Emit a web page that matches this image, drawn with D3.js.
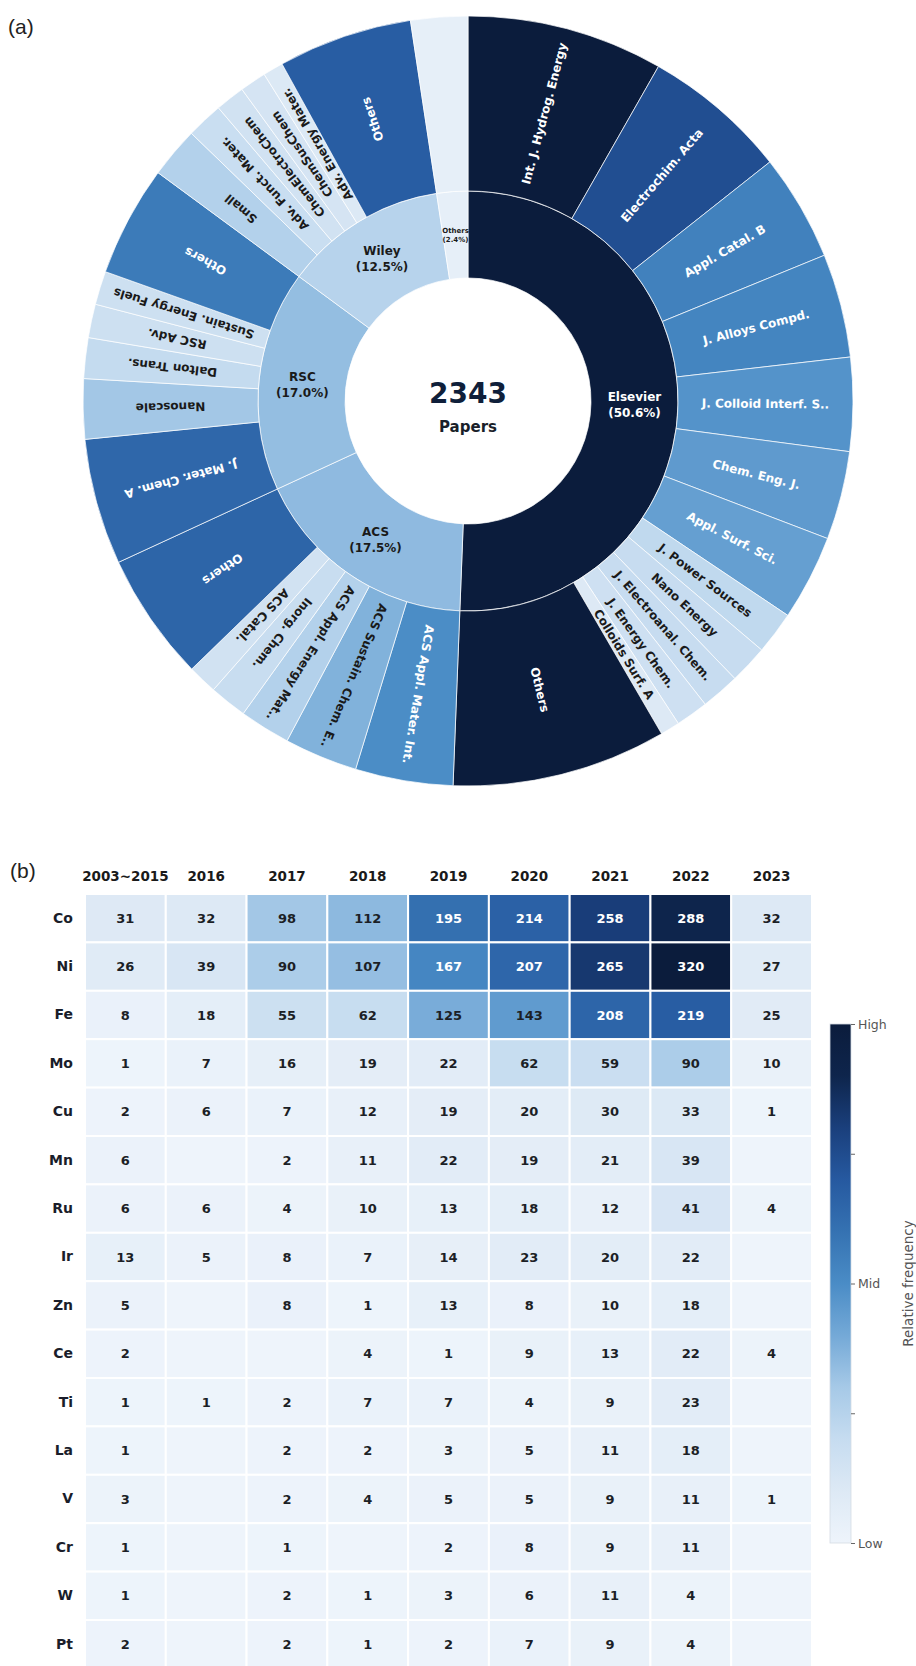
<!DOCTYPE html>
<html>
<head>
<meta charset="utf-8">
<script src="https://cdn.jsdelivr.net/npm/d3@7"></script>
<style>
  body { margin: 0; background: #fff; }
  svg { display: block; font-family: "DejaVu Sans", sans-serif; }
</style>
</head>
<body>
<div id="chart"></div>
<script>
// ---- panel (a): publishers and journals ----
const publishers = ["Elsevier", "ACS", "RSC", "Wiley", "Others"];

const elsevierJournals = ["Int. J. Hydrog. Energy", "Electrochim. Acta", "Appl. Catal. B", "J. Alloys Compd.",
  "J. Colloid Interf. S..", "Chem. Eng. J.", "Appl. Surf. Sci.", "J. Power Sources", "Nano Energy",
  "J. Electroanal. Chem.", "J. Energy Chem.", "Colloids Surf. A", "Others"];
const elsevierCounts = [193, 143, 105, 102, 92, 87, 84, 42, 38, 38, 32, 19, 211];

const acsJournals = ["ACS Appl. Mater. Int.", "ACS Sustain. Chem. E..", "ACS Appl. Energy Mat..",
  "Inorg. Chem.", "ACS Catal.", "Others"];
const acsCounts = [96, 72, 50, 37, 29, 126];

const rscJournals = ["J. Mater. Chem. A", "Nanoscale", "Dalton Trans.", "RSC Adv.", "Sustain. Energy Fuels", "Others"];
const rscCounts = [124, 59, 40, 33, 33, 109];

const wileyJournals = ["Small", "Adv. Funct. Mater.", "ChemElectroChem", "ChemSusChem", "Adv. Energy Mater.", "Others"];
const wileyCounts = [50, 36, 29, 26, 20, 132];

const otherJournals = [""];   // the small "Others" publisher has no journal split
const otherCounts = [56];

// ---- panel (b): metals per year ----
const metals = ["Co", "Ni", "Fe", "Mo", "Cu", "Mn", "Ru", "Ir", "Zn", "Ce", "Ti", "La", "V", "Cr", "W", "Pt"];
const years = ["2003~2015", "2016", "2017", "2018", "2019", "2020", "2021", "2022", "2023"];
const heatCounts = [
  [31, 32, 98, 112, 195, 214, 258, 288, 32],
  [26, 39, 90, 107, 167, 207, 265, 320, 27],
  [8, 18, 55, 62, 125, 143, 208, 219, 25],
  [1, 7, 16, 19, 22, 62, 59, 90, 10],
  [2, 6, 7, 12, 19, 20, 30, 33, 1],
  [6, null, 2, 11, 22, 19, 21, 39, null],
  [6, 6, 4, 10, 13, 18, 12, 41, 4],
  [13, 5, 8, 7, 14, 23, 20, 22, null],
  [5, null, 8, 1, 13, 8, 10, 18, null],
  [2, null, null, 4, 1, 9, 13, 22, 4],
  [1, 1, 2, 7, 7, 4, 9, 23, null],
  [1, null, 2, 2, 3, 5, 11, 18, null],
  [3, null, 2, 4, 5, 5, 9, 11, 1],
  [1, null, 1, null, 2, 8, 9, 11, null],
  [1, null, 2, 1, 3, 6, 11, 4, null],
  [2, null, 2, 1, 2, 7, 9, 4, null]
];
const colorbarTicks = [0, 0.25, 0.5, 0.75, 1];
const colorbarLabels = ["Low", "", "Mid", "", "High"];

const W = 916, H = 1666;
const svg = d3.select("#chart").append("svg").attr("width", W).attr("height", H);

// shared blue colormap
const cmapStops = [0, .1, .2, .3, .4, .5, .6, .7, .8, .9, 1];
const cmapColors = ["#eef4fb", "#dde9f5", "#c6dcf0", "#a6c9e7", "#74a9d7", "#4a8cc6",
  "#3572b2", "#2659a0", "#1a3f7c", "#0e254c", "#0b1c3c"];
const cmap = d3.scaleLinear().domain(cmapStops).range(cmapColors).clamp(true);

// ---------- sunburst ----------
svg.append("text").attr("x", 8).attr("y", 34)
  .style("font-family", "'Liberation Sans', Arial, sans-serif").attr("font-size", 21).attr("fill", "#222")
  .text("(a)");

const groups = [elsevierJournals, acsJournals, rscJournals, wileyJournals, otherJournals];
const groupCounts = [elsevierCounts, acsCounts, rscCounts, wileyCounts, otherCounts];

const root = d3.hierarchy({
  name: "root",
  children: publishers.map((p, i) => ({
    name: p,
    children: groups[i].map((j, k) => ({ name: j, value: groupCounts[i][k] }))
  }))
}).sum(d => d.value || 0);
d3.partition().size([2 * Math.PI, 3])(root);

const cx = 468, cy = 401;
const ringR = [0, 123, 210, 385];
const arc = d3.arc()
  .startAngle(d => d.x0).endAngle(d => d.x1)
  .innerRadius(d => ringR[d.depth]).outerRadius(d => ringR[d.depth + 1]);

const inner = root.children;
const outer = root.leaves();
const maxInner = d3.max(inner, d => d.value);
// colour scale of the outer ring is set by the biggest named journal
const maxOuter = d3.max(outer.filter(d => d.data.name && d.data.name !== "Others"), d => d.value);

function fill(d) {
  if (d.depth === 1) return cmap(d.value / maxInner);
  if (!d.data.name) return fill(d.parent);
  return cmap(d.value / maxOuter);
}

const g = svg.append("g").attr("transform", `translate(${cx},${cy})`);

g.selectAll("path")
  .data(root.descendants().filter(d => d.depth > 0))
  .join("path")
  .attr("d", arc)
  .attr("fill", fill)
  .attr("stroke", "#fff")
  .attr("stroke-opacity", 0.7)
  .attr("stroke-width", 1);

// journal labels run along the radius
const outerMid = (ringR[2] + ringR[3]) / 2;
g.selectAll("text.journal")
  .data(outer.filter(d => d.data.name))
  .join("text")
  .attr("class", "journal")
  .attr("transform", d => {
    const a = (d.x0 + d.x1) / 2;
    return `translate(${outerMid * Math.sin(a)},${-outerMid * Math.cos(a)}) rotate(${a * 180 / Math.PI - 90})`;
  })
  .attr("text-anchor", "middle")
  .attr("dy", "0.36em")
  .attr("font-size", 12)
  .attr("font-weight", "bold")
  .attr("fill", d => d.value / maxOuter > 0.4 ? "#fff" : "#1a1a1a")
  .text(d => d.data.name);

// publisher labels
const innerMid = (ringR[1] + ringR[2]) / 2;
inner.forEach(d => {
  const a = (d.x0 + d.x1) / 2;
  const share = d.value / root.value;
  const fs = share < 0.05 ? 7 : 12;
  const t = g.append("text")
    .attr("transform", `translate(${innerMid * Math.sin(a)},${-innerMid * Math.cos(a)})`)
    .attr("text-anchor", "middle")
    .attr("font-size", fs)
    .attr("font-weight", "bold")
    .attr("fill", d.value / maxInner > 0.4 ? "#fff" : "#1a1a1a");
  t.append("tspan").attr("x", 0).attr("y", -fs * 0.25).text(d.data.name);
  t.append("tspan").attr("x", 0).attr("y", fs * 1.05).text(`(${(share * 100).toFixed(1)}%)`);
});

g.append("text").attr("text-anchor", "middle").attr("y", 2)
  .attr("font-size", 28).attr("font-weight", "bold").attr("fill", "#0f1f3a")
  .text(root.value);
g.append("text").attr("text-anchor", "middle").attr("y", 31)
  .attr("font-size", 15).attr("font-weight", "bold").attr("fill", "#1a1f2a")
  .text("Papers");

// ---------- heatmap ----------
svg.append("text").attr("x", 10).attr("y", 878)
  .style("font-family", "'Liberation Sans', Arial, sans-serif").attr("font-size", 21).attr("fill", "#222")
  .text("(b)");

const rowH = 48.4;
const x = d3.scaleBand().domain(years).range([85, 812]);
const y = d3.scaleBand().domain(metals).range([894, 894 + rowH * metals.length]);
const maxCount = d3.max(heatCounts.flat());

const cells = [];
metals.forEach((m, i) => years.forEach((yr, j) => cells.push({ m, yr, v: heatCounts[i][j] })));

const hm = svg.append("g");
hm.selectAll("rect")
  .data(cells)
  .join("rect")
  .attr("x", d => x(d.yr))
  .attr("y", d => y(d.m))
  .attr("width", x.bandwidth())
  .attr("height", y.bandwidth())
  .attr("fill", d => cmap((d.v || 0) / maxCount))
  .attr("stroke", "#fff")
  .attr("stroke-width", 2);

hm.selectAll("text")
  .data(cells.filter(d => d.v != null))
  .join("text")
  .attr("x", d => x(d.yr) + x.bandwidth() / 2)
  .attr("y", d => y(d.m) + y.bandwidth() / 2)
  .attr("dy", "0.36em")
  .attr("text-anchor", "middle")
  .attr("font-size", 13)
  .attr("font-weight", "bold")
  .attr("fill", d => d.v / maxCount > 0.5 ? "#fff" : "#1c1f26")
  .text(d => d.v);

const xAxis = svg.append("g").attr("transform", "translate(0,894)")
  .call(d3.axisTop(x).tickSize(0).tickPadding(13));
xAxis.select(".domain").remove();
xAxis.selectAll("text").attr("font-size", 13.5).attr("font-weight", "bold")
  .attr("fill", "#1a1a1a").style("font-family", "'DejaVu Sans', sans-serif");

const yAxis = svg.append("g").attr("transform", "translate(85,0)")
  .call(d3.axisLeft(y).tickSize(0).tickPadding(12));
yAxis.select(".domain").remove();
yAxis.selectAll("text").attr("font-size", 14).attr("font-weight", "bold")
  .attr("fill", "#1a1d2a").style("font-family", "'DejaVu Sans', sans-serif");

// colorbar
const cbX = 830, cbW = 21, cbTop = 1024, cbBottom = 1543;
const grad = svg.append("defs").append("linearGradient")
  .attr("id", "cbGrad").attr("x1", 0).attr("y1", 1).attr("x2", 0).attr("y2", 0);
grad.selectAll("stop").data(cmapStops).join("stop")
  .attr("offset", d => d).attr("stop-color", d => cmap(d));

svg.append("rect").attr("x", cbX).attr("y", cbTop).attr("width", cbW).attr("height", cbBottom - cbTop)
  .attr("fill", "url(#cbGrad)").attr("stroke", "#d4dbe3").attr("stroke-width", 0.8);

const cb = d3.scaleLinear().domain([0, 1]).range([cbBottom, cbTop]);
const cbAxis = svg.append("g").attr("transform", `translate(${cbX + cbW},0)`)
  .call(d3.axisRight(cb).tickValues(colorbarTicks).tickSize(4).tickPadding(3)
    .tickFormat((d, i) => colorbarLabels[i]));
cbAxis.select(".domain").remove();
cbAxis.selectAll("line").attr("stroke", "#666");
cbAxis.selectAll("text").attr("font-size", 12.5).attr("fill", "#555")
  .style("font-family", "'DejaVu Sans', sans-serif");

svg.append("text")
  .attr("transform", `translate(908,${(cbTop + cbBottom) / 2}) rotate(-90)`)
  .attr("text-anchor", "middle").attr("dy", "0.35em")
  .attr("font-size", 13.5).attr("fill", "#555")
  .text("Relative frequency");
</script>
</body>
</html>
